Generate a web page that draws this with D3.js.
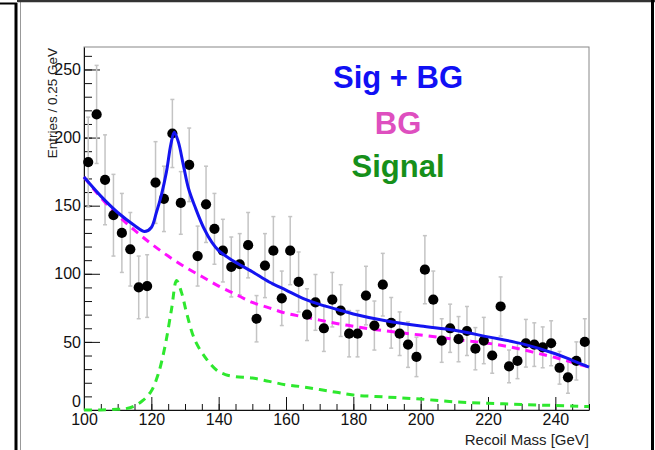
<!DOCTYPE html>
<html>
<head>
<meta charset="utf-8">
<script src="https://cdn.jsdelivr.net/npm/d3@7"></script>
<style>
  html, body { margin: 0; padding: 0; background: #fff; }
  svg { display: block; }
  .tick text { font-family: "Liberation Sans Narrow", "Arial Narrow", "Liberation Sans", Arial, sans-serif; font-size: 16px; fill: #111; }
  .title { font-family: "Liberation Sans", Arial, sans-serif; fill: #222; }
  .legend { font-family: "Liberation Sans", Arial, sans-serif; font-size: 31px; font-weight: bold; text-anchor: middle; }
</style>
</head>
<body>
<div id="container"></div>
<script>
// recoil mass histogram, 60 bins of 2.5 GeV between 100 and 250
const binLow = 100;
const binWidth = 2.5;
const entries = [182, 217, 169, 143, 130, 118, 90, 91, 167, 155,
  203, 152, 180, 113, 151, 133, 117, 105, 107, 121,
  67, 106, 117, 82, 117, 94, 70, 79, 60, 81,
  73, 56, 56, 84, 62, 92, 64, 56, 48, 39,
  103, 81, 51, 60, 52, 58, 45, 51, 40, 76,
  32, 36, 49, 48, 46, 49, 31, 24, 36, 50];
const errors = [33, 36, 33, 30, 29, 27, 23, 23, 30, 24,
  25, 23, 27, 22, 28, 26, 23, 22, 22.5, 24,
  17, 23.5, 25, 20, 25, 22, 19, 20.5, 17, 20,
  19, 17, 17, 21.5, 18, 23, 18.6, 16, 16.7, 14.5,
  25, 21, 16, 17.7, 16.6, 18, 15.5, 17, 13, 21.7,
  12, 13, 17.5, 16, 15, 16.5, 12, 11.7, 14, 17];

// fitted curves
const sigBgMass = [100, 105, 110, 115, 118, 120, 121.5, 123, 124.5, 125.8, 126.8, 128, 129.5, 131, 133, 135.5, 138, 140, 144, 150, 155, 160, 165, 170, 175, 180, 190, 200, 210, 220, 230, 240, 245, 250];
const sigBgValue = [171, 157, 145, 135.5, 131, 134, 145, 158, 175, 195, 204, 197, 180, 163, 149, 134, 123, 117, 110, 101.5, 94, 88, 82, 77.5, 74, 70.5, 65.3, 61.6, 58.5, 53.7, 48.7, 41.3, 36.5, 31.5];

const bgMass = [100, 105, 110, 115, 120, 125, 130, 135, 140, 145, 150, 155, 160, 165, 170, 175, 180, 185, 190, 195, 200, 205, 210, 215, 220, 225, 230, 235, 240, 245, 250];
const bgValue = [171, 156, 143, 132, 122, 113, 105, 98, 91, 85, 79, 75, 71, 68.5, 66, 63.5, 61.5, 59.5, 58, 56.5, 55, 53.5, 52, 50.5, 49, 47, 44.5, 41.5, 38.5, 35, 31.5];

const sigMass = [100, 105, 110, 112.5, 115, 117.5, 120, 122, 124, 126, 127.5, 129, 130.5, 133, 136.5, 139.5, 142, 145, 150, 155, 160, 165, 170, 175, 180, 190, 200, 210, 220, 230, 240, 250];
const sigValue = [0, 0, 0.5, 1, 3, 7, 14, 26, 46, 74, 95, 86, 71, 51, 37, 29, 26, 24.5, 23.5, 21, 18.5, 17, 15, 13, 11, 9.5, 8, 6, 5, 4, 3.3, 2.5];

const xMajor = [100, 120, 140, 160, 180, 200, 220, 240];
const yMajor = [0, 50, 100, 150, 200, 250];

const legendItems = [
  { label: "Sig + BG", color: "#1010f4" },
  { label: "BG", color: "#de4fbf" },
  { label: "Signal", color: "#16901a" }
];

const width = 655, height = 450;
const svg = d3.select('#container').append('svg')
  .attr('width', width).attr('height', height);

// outer screenshot borders
svg.append('line').attr('x1', 0).attr('y1', 3.5).attr('x2', 17).attr('y2', 3.5)
  .attr('stroke', '#000').attr('stroke-width', 2);
svg.append('line').attr('x1', 16).attr('y1', 3).attr('x2', 16).attr('y2', height)
  .attr('stroke', '#000').attr('stroke-width', 3);
svg.append('line').attr('x1', 20.5).attr('y1', 2).attr('x2', 20.5).attr('y2', height)
  .attr('stroke', '#999').attr('stroke-width', 1);
svg.append('line').attr('x1', 17).attr('y1', 1).attr('x2', width).attr('y2', 1)
  .attr('stroke', '#333').attr('stroke-width', 2.5);
svg.append('line').attr('x1', 652.5).attr('y1', 0).attr('x2', 652.5).attr('y2', height)
  .attr('stroke', '#000').attr('stroke-width', 3);

const x = d3.scaleLinear().domain([100, 250]).range([84, 589]);
const y = d3.scaleLinear().domain([0, 266.5]).range([410, 47]);

// frame
svg.append('rect')
  .attr('x', x(100)).attr('y', y(266.5))
  .attr('width', x(250) - x(100)).attr('height', y(0) - y(266.5))
  .attr('fill', 'none').attr('stroke', '#888').attr('stroke-width', 1);

// minor ticks
svg.append('g').attr('transform', `translate(0,${y(0)})`)
  .call(d3.axisBottom(x).tickValues(d3.range(100, 251, 5)).tickSizeInner(-6).tickSizeOuter(0).tickFormat(''))
  .call(g => g.select('.domain').remove())
  .call(g => g.selectAll('line').attr('stroke', '#111'));
svg.append('g').attr('transform', `translate(${x(100)},0)`)
  .call(d3.axisLeft(y).tickValues(d3.range(0, 261, 10)).tickSizeInner(-8).tickSizeOuter(0).tickFormat(''))
  .call(g => g.select('.domain').remove())
  .call(g => g.selectAll('line').attr('stroke', '#111'));

// major ticks + labels
svg.append('g').attr('transform', `translate(0,${y(0)})`)
  .call(d3.axisBottom(x).tickValues(xMajor).tickSizeInner(-13).tickSizeOuter(0).tickPadding(4))
  .call(g => g.select('.domain').attr('stroke', '#111'))
  .call(g => g.selectAll('line').attr('stroke', '#111'));
svg.append('g').attr('transform', `translate(${x(100)},0)`)
  .call(d3.axisLeft(y).tickValues(yMajor).tickSizeInner(-16).tickSizeOuter(0).tickPadding(3))
  .call(g => g.select('.domain').attr('stroke', '#111'))
  .call(g => g.selectAll('line').attr('stroke', '#111'))
  .call(g => g.selectAll('.tick').filter(d => d === 0).select('text').attr('dy', '-0.2em'));

// axis titles
svg.append('text').attr('class', 'title')
  .attr('font-size', 13.5)
  .attr('text-anchor', 'end')
  .attr('transform', `translate(56.5,${y(266.5) + 1}) rotate(-90)`)
  .text('Entries / 0.25 GeV');
svg.append('text').attr('class', 'title')
  .attr('font-size', 15)
  .attr('text-anchor', 'end')
  .attr('x', x(250)).attr('y', 445)
  .text('Recoil Mass [GeV]');

// error bars + points
const bins = entries.map((v, i) => ({ m: binLow + binWidth * (i + 0.5), v: v, e: errors[i] }));
const bars = svg.append('g').attr('stroke', '#c4c4c4').attr('stroke-width', 1.5);
bars.selectAll('line.err').data(bins).join('line').attr('class', 'err')
  .attr('x1', d => x(d.m)).attr('x2', d => x(d.m))
  .attr('y1', d => y(d.v + d.e)).attr('y2', d => y(Math.max(d.v - d.e, 0)));
bars.selectAll('line.capTop').data(bins).join('line').attr('class', 'capTop')
  .attr('x1', d => x(d.m) - 2).attr('x2', d => x(d.m) + 2)
  .attr('y1', d => y(d.v + d.e)).attr('y2', d => y(d.v + d.e));
bars.selectAll('line.capBot').data(bins).join('line').attr('class', 'capBot')
  .attr('x1', d => x(d.m) - 2).attr('x2', d => x(d.m) + 2)
  .attr('y1', d => y(Math.max(d.v - d.e, 0))).attr('y2', d => y(Math.max(d.v - d.e, 0)));

// curves
const line = d3.line().x(d => x(d[0])).y(d => y(d[1])).curve(d3.curveCatmullRom.alpha(0.5));
svg.append('path').datum(d3.zip(sigMass, sigValue))
  .attr('d', line).attr('fill', 'none')
  .attr('stroke', '#2ee82e').attr('stroke-width', 3).attr('stroke-dasharray', '8,6');
svg.append('path').datum(d3.zip(bgMass, bgValue))
  .attr('d', line).attr('fill', 'none')
  .attr('stroke', '#ff10ff').attr('stroke-width', 3).attr('stroke-dasharray', '8,6');

svg.append('g').selectAll('circle').data(bins).join('circle')
  .attr('cx', d => x(d.m)).attr('cy', d => y(d.v)).attr('r', 5.1)
  .attr('fill', '#000');

svg.append('path').datum(d3.zip(sigBgMass, sigBgValue))
  .attr('d', line).attr('fill', 'none')
  .attr('stroke', '#1414f0').attr('stroke-width', 3);

// legend
const legendY = [87.7, 134.3, 176.7];
svg.append('g').selectAll('text').data(legendItems).join('text')
  .attr('class', 'legend')
  .attr('x', 398).attr('y', (d, i) => legendY[i])
  .attr('fill', d => d.color)
  .text(d => d.label);
</script>
</body>
</html>
